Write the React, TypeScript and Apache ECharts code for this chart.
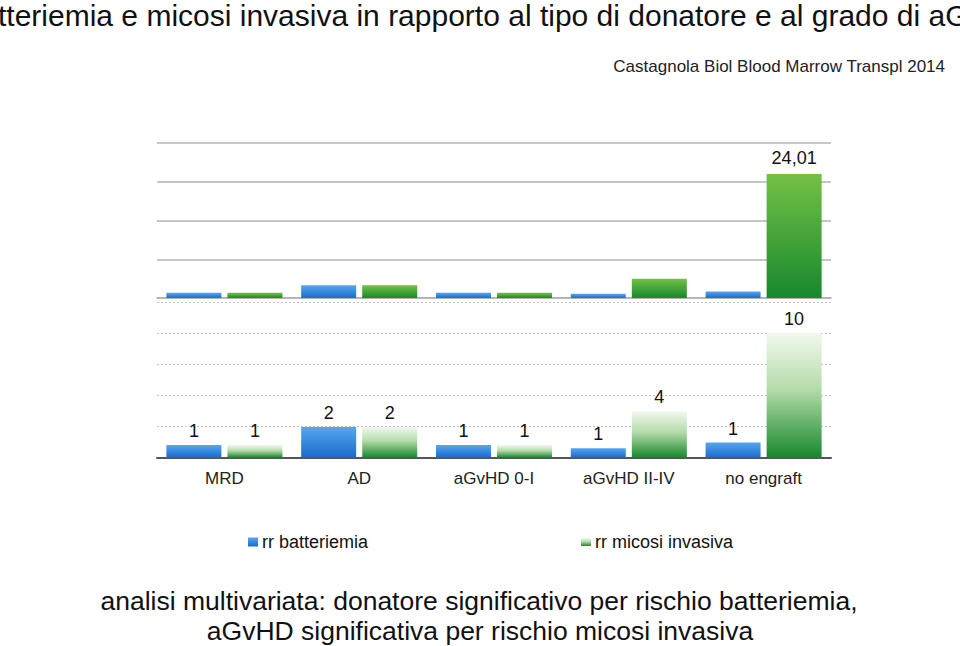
import React, { useEffect, useRef } from "react";
import * as echarts from "echarts";

const categories = ["MRD", "AD", "aGvHD 0-I", "aGvHD II-IV", "no engraft"];
const topBatteriemia = [1, 2.45, 1, 0.8, 1.25];
const topMicosi = [1, 2.45, 1, 3.75, 24.01];
const bottomBatteriemia = [1, 2.45, 1, 0.75, 1.2];
const bottomMicosi = [1, 2.45, 1, 3.7, 10];
const legendNames = ["rr batteriemia", "rr micosi invasiva"];
const titleText = "tteriemia e micosi invasiva in rapporto al tipo di donatore e al grado di aG";
const sourceText = "Castagnola Biol Blood Marrow Transpl 2014";
const noteLines = [
  "analisi multivariata: donatore significativo per rischio batteriemia,",
  "aGvHD significativa per rischio micosi invasiva",
];

const FONT = "Liberation Sans, Arial, sans-serif";

export default function App() {
  const ref = useRef<HTMLDivElement>(null);
  useEffect(() => {
    document.body.style.margin = "0";
    if (!ref.current) return;
    const chart = echarts.init(ref.current, undefined, { renderer: "svg" });
    const blue = new echarts.graphic.LinearGradient(0, 0, 0, 1, [
      { offset: 0, color: "#56a6f0" },
      { offset: 1, color: "#1c6bcc" },
    ]);
    const greenSolid = new echarts.graphic.LinearGradient(0, 0, 0, 1, [
      { offset: 0, color: "#74c146" },
      { offset: 1, color: "#17882d" },
    ]);
    const greenFade = new echarts.graphic.LinearGradient(0, 0, 0, 1, [
      { offset: 0, color: "#f1f8ee" },
      { offset: 0.45, color: "#b4dcaa" },
      { offset: 1, color: "#17882d" },
    ]);
    const left = 157;
    const width = 674;
    const bar = { type: "bar", barWidth: 55, barGap: "11%" } as any;
    const lbl = {
      show: true,
      position: "top",
      distance: 5,
      fontSize: 18,
      color: "#111",
      fontFamily: FONT,
      formatter: (p: any) => String(Math.round(p.value)),
    };
    chart.setOption({
      animation: false,
      textStyle: { fontFamily: FONT },
      grid: [
        { left, width, top: 143, height: 155 },
        { left, width, top: 302, height: 155.5 },
      ],
      xAxis: [
        {
          type: "category",
          gridIndex: 0,
          data: categories,
          axisLabel: { show: false },
          axisTick: { show: false },
          axisLine: { lineStyle: { color: "#b0b0b0", width: 1.5 } },
        },
        {
          type: "category",
          gridIndex: 1,
          data: categories,
          axisTick: { show: false },
          axisLine: { lineStyle: { color: "#555", width: 2 } },
          axisLabel: { fontSize: 17, color: "#222", margin: 12, fontFamily: FONT },
        },
      ],
      yAxis: [
        {
          type: "value",
          gridIndex: 0,
          min: 0,
          max: 30,
          interval: 7.5,
          axisLabel: { show: false },
          axisLine: { show: false },
          axisTick: { show: false },
          splitLine: { lineStyle: { color: "#b3b3b3", width: 1.5 } },
        },
        {
          type: "value",
          gridIndex: 1,
          min: 0,
          max: 12.5,
          interval: 2.5,
          axisLabel: { show: false },
          axisLine: { show: false },
          axisTick: { show: false },
          splitLine: { lineStyle: { color: "#c4c4c4", width: 1, type: [2, 2] } },
        },
      ],
      legend: [
        {
          data: [legendNames[0]],
          left: 243,
          top: 528,
          itemWidth: 10,
          itemHeight: 9,
          itemGap: 0,
          icon: "rect",
          textStyle: { fontSize: 18, color: "#111", fontFamily: FONT, padding: [0, 0, 0, -1] },
        },
        {
          data: [legendNames[1]],
          left: 576,
          top: 528,
          itemWidth: 10,
          itemHeight: 8,
          itemGap: 0,
          icon: "rect",
          textStyle: { fontSize: 18, color: "#111", fontFamily: FONT, padding: [0, 0, 0, -1] },
        },
      ],
      series: [
        {
          ...bar,
          name: "top-b",
          xAxisIndex: 0,
          yAxisIndex: 0,
          data: topBatteriemia,
          itemStyle: { color: blue },
        },
        {
          ...bar,
          name: "top-m",
          xAxisIndex: 0,
          yAxisIndex: 0,
          data: topMicosi.map((v, i) =>
            i === topMicosi.length - 1
              ? {
                  value: v,
                  label: {
                    show: true,
                    position: "top",
                    distance: 7,
                    fontSize: 18,
                    color: "#111",
                    fontFamily: FONT,
                    formatter: (p: any) => String(p.value).replace(".", ","),
                  },
                }
              : v
          ),
          itemStyle: { color: greenSolid },
        },
        {
          ...bar,
          name: legendNames[0],
          xAxisIndex: 1,
          yAxisIndex: 1,
          data: bottomBatteriemia,
          itemStyle: { color: blue },
          label: lbl,
        },
        {
          ...bar,
          name: legendNames[1],
          xAxisIndex: 1,
          yAxisIndex: 1,
          data: bottomMicosi,
          itemStyle: { color: greenFade },
          label: lbl,
        },
      ],
      graphic: [
        {
          type: "text",
          x: -2,
          y: 15,
          style: {
            text: titleText,
            fontSize: 30,
            fontFamily: FONT,
            fill: "#111",
            verticalAlign: "middle",
          },
        },
        {
          type: "text",
          x: 945,
          y: 66,
          style: {
            text: sourceText,
            fontSize: 17,
            fontFamily: FONT,
            fill: "#222",
            align: "right",
            verticalAlign: "middle",
          },
        },
        {
          type: "text",
          x: 479,
          y: 601,
          style: {
            text: noteLines[0],
            fontSize: 26.5,
            fontFamily: FONT,
            fill: "#111",
            align: "center",
            verticalAlign: "middle",
          },
        },
        {
          type: "text",
          x: 480,
          y: 631,
          style: {
            text: noteLines[1],
            fontSize: 26.5,
            fontFamily: FONT,
            fill: "#111",
            align: "center",
            verticalAlign: "middle",
          },
        },
      ],
    });
    return () => chart.dispose();
  }, []);
  return <div ref={ref} style={{ width: 960, height: 646 }} />;
}
